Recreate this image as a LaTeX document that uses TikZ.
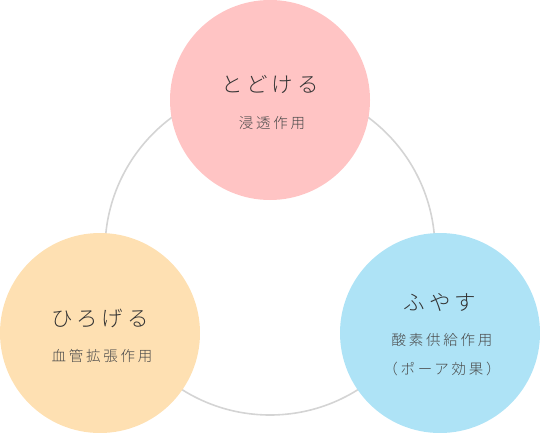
\documentclass[tikz,border=0pt]{standalone}
\usepackage{fontspec}
\usepackage{tikz}
\setmainfont{Noto Sans CJK JP}
\newfontfamily\jptitle[LetterSpace=18]{Noto Sans CJK JP Light}
\newfontfamily\jpsub[LetterSpace=19]{Noto Sans CJK JP Light}
\definecolor{ring}{HTML}{D4D4D4}
\definecolor{peach}{HTML}{FFC4C4}
\definecolor{cream}{HTML}{FEE0B2}
\definecolor{sky}{HTML}{AEE3F6}
\definecolor{ink}{HTML}{333333}
\definecolor{inksoft}{HTML}{4A4A4A}

\begin{document}
\begin{tikzpicture}[x=1pt,y=-1pt,
  ttl/.style={font=\jptitle\fontsize{21.5}{21.5}\selectfont,text=ink,inner sep=0pt},
  sub/.style={font=\jpsub\fontsize{14.5}{14.5}\selectfont,text=inksoft,inner sep=0pt}]
\useasboundingbox (0,0) rectangle (540,433);
\draw[ring,line width=1.6pt] (270,250) circle[radius=165];
\fill[peach] (270,100) circle[radius=100];
\fill[cream] (100,333) circle[radius=100];
\fill[sky] (440,333) circle[radius=100];
\node[ttl] (todokeru) at (270,84) {とどける};
\node[sub] (shinto) at (272,123) {浸透作用};
\node[ttl] (hirogeru) at (100,318) {ひろげる};
\node[sub] (kekkan) at (102,356) {血管拡張作用};
\node[ttl] (fuyasu) at (440,302) {ふやす};
\node[sub] (sanso) at (442,340) {酸素供給作用};
\node[sub] (bohr) at (442,369) {（ポーア効果）};
\end{tikzpicture}
\end{document}
